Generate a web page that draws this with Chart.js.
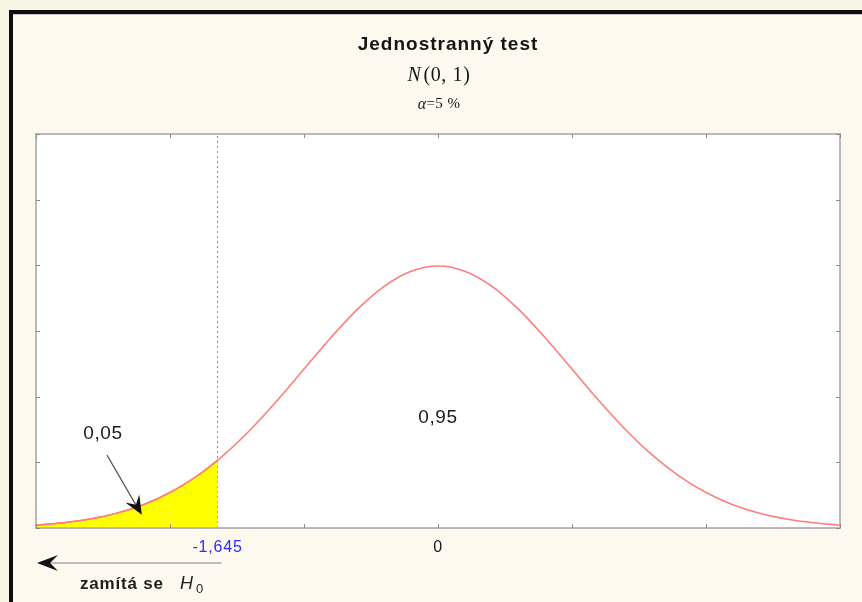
<!DOCTYPE html>
<html>
<head>
<meta charset="utf-8">
<script src="https://cdn.jsdelivr.net/npm/chart.js@4.4.0/dist/chart.umd.min.js"></script>
<style>
  html, body { margin: 0; padding: 0; background: #f6f5e3; }
  canvas { display: block; }
</style>
</head>
<body>
<canvas id="chart" width="862" height="602"></canvas>
<script>
// Standard normal density N(0, 1), sampled along z
const zValues = [-3.0, -2.8, -2.6, -2.4, -2.2, -2.0, -1.8, -1.645, -1.6, -1.4, -1.2, -1.0, -0.8, -0.6, -0.4, -0.2,
                 0.0, 0.2, 0.4, 0.6, 0.8, 1.0, 1.2, 1.4, 1.6, 1.8, 2.0, 2.2, 2.4, 2.6, 2.8, 3.0];
const density = [0.0044, 0.0079, 0.0136, 0.0224, 0.0355, 0.0540, 0.0790, 0.1031, 0.1109, 0.1497, 0.1942, 0.2420, 0.2897, 0.3332, 0.3683, 0.3910,
                 0.3989, 0.3910, 0.3683, 0.3332, 0.2897, 0.2420, 0.1942, 0.1497, 0.1109, 0.0790, 0.0540, 0.0355, 0.0224, 0.0136, 0.0079, 0.0044];

// Rejection region (left tail up to the critical value)
const criticalZ = -1.645;
const tailZ = [-3.0, -2.8, -2.6, -2.4, -2.2, -2.0, -1.8, -1.645];
const tailDensity = [0.0044, 0.0079, 0.0136, 0.0224, 0.0355, 0.0540, 0.0790, 0.1031];

// Axis ticks and labels
const xTickMarks = [-3, -2, -1, 0, 1, 2, 3];
const yTickMarks = [0, 0.1, 0.2, 0.3, 0.4, 0.5, 0.6];
const xLabelValues = [-1.645, 0];
const xLabelTexts = ['-1,645', '0'];

// Texts
const titleText = 'Jednostranný test';
const distributionText = ['N', '(0, 1)'];
const alphaText = ['α', '=5 %'];
const tailProbability = '0,05';
const bodyProbability = '0,95';
const rejectText = ['zamítá se', 'H', '0'];

function toPoints(xs, ys) { return xs.map((x, i) => ({ x: x, y: ys[i] })); }

function drawBarbedHead(ctx, tipX, tipY, angle, len, half) {
  ctx.save();
  ctx.translate(tipX, tipY);
  ctx.rotate(angle);
  ctx.beginPath();
  ctx.moveTo(0, 0);
  ctx.lineTo(-len, -half);
  ctx.lineTo(-len * 0.62, 0);
  ctx.lineTo(-len, half);
  ctx.closePath();
  ctx.fillStyle = '#111';
  ctx.fill();
  ctx.restore();
}

const framePlugin = {
  id: 'frame',
  beforeDraw(chart) {
    const ctx = chart.ctx;
    const { left, right, top, bottom } = chart.chartArea;
    ctx.save();
    ctx.fillStyle = '#f6f5e3';
    ctx.fillRect(0, 0, chart.width, chart.height);
    ctx.fillStyle = '#fef9ee';
    ctx.fillRect(13, 14, chart.width - 13, chart.height - 14);
    ctx.fillStyle = '#0d0d0d';
    ctx.fillRect(9, 10, chart.width - 9, 4);
    ctx.fillRect(9, 10, 4, chart.height - 10);
    ctx.fillStyle = '#c4c4c4';
    ctx.fillRect(13, 14, chart.width - 13, 1);
    ctx.fillStyle = '#ffffff';
    ctx.fillRect(left, top, right - left, bottom - top);
    ctx.restore();
    // slightly open tracking for the axis labels
    ctx.letterSpacing = '0.8px';
  },
  afterDatasetsDraw(chart) {
    const ctx = chart.ctx;
    const xs = chart.scales.x, ys = chart.scales.y;
    const { left, right, top, bottom } = chart.chartArea;
    ctx.save();
    ctx.strokeStyle = '#b9b9b9';
    ctx.lineWidth = 2;
    ctx.strokeRect(left, top, right - left, bottom - top);
    ctx.strokeStyle = '#8a8a8a';
    ctx.lineWidth = 1;
    ctx.beginPath();
    xTickMarks.forEach(v => {
      const px = Math.round(xs.getPixelForValue(v)) + 0.5;
      ctx.moveTo(px, top); ctx.lineTo(px, top + 4);
      ctx.moveTo(px, bottom); ctx.lineTo(px, bottom - 4);
    });
    yTickMarks.forEach(v => {
      const py = Math.round(ys.getPixelForValue(v)) + 0.5;
      ctx.moveTo(left, py); ctx.lineTo(left + 4, py);
      ctx.moveTo(right, py); ctx.lineTo(right - 4, py);
    });
    ctx.stroke();
    ctx.restore();
  },
  afterDraw(chart) {
    const ctx = chart.ctx;
    const xs = chart.scales.x, ys = chart.scales.y;
    const { bottom } = chart.chartArea;
    ctx.save();
    ctx.textBaseline = 'middle';
    ctx.fillStyle = '#151515';

    // Title
    ctx.letterSpacing = '1px';
    ctx.font = 'bold 19px "Liberation Sans", Arial, sans-serif';
    ctx.textAlign = 'center';
    ctx.fillText(titleText, 448, 45);

    // N(0, 1)
    ctx.textBaseline = 'alphabetic';
    ctx.letterSpacing = '0.6px';
    ctx.textAlign = 'left';
    ctx.font = 'italic 20px "Liberation Serif", serif';
    const wN = ctx.measureText(distributionText[0]).width;
    ctx.font = '20px "Liberation Serif", serif';
    const wP = ctx.measureText(distributionText[1]).width;
    let x0 = 439 - (wN + 2 + wP) / 2;
    ctx.font = 'italic 20px "Liberation Serif", serif';
    ctx.fillText(distributionText[0], x0, 81);
    ctx.font = '20px "Liberation Serif", serif';
    ctx.fillText(distributionText[1], x0 + wN + 2, 81);

    // alpha = 5 %
    ctx.letterSpacing = '0.4px';
    ctx.font = 'italic 16px "Liberation Serif", serif';
    const wA = ctx.measureText(alphaText[0]).width;
    ctx.font = '15px "Liberation Serif", serif';
    const wR = ctx.measureText(alphaText[1]).width;
    x0 = 439 - (wA + wR) / 2;
    ctx.font = 'italic 16px "Liberation Serif", serif';
    ctx.fillText(alphaText[0], x0, 109);
    ctx.font = '15px "Liberation Serif", serif';
    ctx.fillText(alphaText[1], x0 + wA, 108);

    // Probability labels inside the plot
    ctx.textBaseline = 'middle';
    ctx.letterSpacing = '0.6px';
    ctx.textAlign = 'center';
    ctx.font = '19px "Liberation Sans", Arial, sans-serif';
    ctx.fillStyle = '#1a1a1a';
    ctx.fillText(tailProbability, xs.getPixelForValue(-2.5), ys.getPixelForValue(0.144));
    ctx.fillText(bodyProbability, xs.getPixelForValue(0), ys.getPixelForValue(0.168));

    // Pointer from the tail label to the shaded area
    const ax0 = xs.getPixelForValue(-2.47), ay0 = ys.getPixelForValue(0.111);
    const ax1 = xs.getPixelForValue(-2.21), ay1 = ys.getPixelForValue(0.02);
    ctx.strokeStyle = '#555';
    ctx.lineWidth = 1.2;
    ctx.beginPath();
    ctx.moveTo(ax0, ay0);
    ctx.lineTo(ax1 - 6, ay1 - 10);
    ctx.stroke();
    drawBarbedHead(ctx, ax1, ay1, Math.atan2(ay1 - ay0, ax1 - ax0), 19, 8);

    // Rejection direction arrow below the axis
    const ry = bottom + 35;
    const rx0 = xs.getPixelForValue(criticalZ) + 4;
    const rx1 = xs.getPixelForValue(-3) + 1;
    ctx.strokeStyle = '#a8a8a8';
    ctx.lineWidth = 1.5;
    ctx.beginPath();
    ctx.moveTo(rx0, ry);
    ctx.lineTo(rx1 + 10, ry);
    ctx.stroke();
    drawBarbedHead(ctx, rx1, ry, Math.PI, 21, 8);

    // "zamítá se H0"
    ctx.fillStyle = '#1e1e1e';
    ctx.textAlign = 'left';
    ctx.letterSpacing = '0.8px';
    ctx.font = 'bold 17px "Liberation Sans", Arial, sans-serif';
    const ty = bottom + 56;
    ctx.fillText(rejectText[0], 80, ty);
    ctx.letterSpacing = '0px';
    ctx.font = 'italic 18px "Liberation Sans", Arial, sans-serif';
    ctx.fillText(rejectText[1], 180, ty);
    ctx.font = '13px "Liberation Sans", Arial, sans-serif';
    ctx.fillText(rejectText[2], 196, ty + 5);
    ctx.restore();
  }
};

new Chart(document.getElementById('chart'), {
  type: 'line',
  data: {
    datasets: [
      {
        label: 'N(0,1)',
        data: toPoints(zValues, density),
        borderColor: '#ff7d7d',
        borderWidth: 1.6,
        pointRadius: 0,
        fill: false,
        cubicInterpolationMode: 'monotone'
      },
      {
        label: 'tail',
        data: toPoints(tailZ, tailDensity),
        borderColor: '#ff6a3a',
        borderWidth: 1.2,
        backgroundColor: '#ffff00',
        pointRadius: 0,
        fill: 'origin',
        cubicInterpolationMode: 'monotone'
      },
      {
        label: 'critical',
        data: [{ x: criticalZ, y: 0 }, { x: criticalZ, y: 0.6 }],
        borderColor: '#7a7aff',
        borderWidth: 1,
        borderDash: [2, 3],
        pointRadius: 0,
        fill: false
      }
    ]
  },
  options: {
    responsive: false,
    animation: false,
    layout: { padding: { left: 36, top: 134, right: 22, bottom: 0 } },
    plugins: {
      legend: { display: false },
      tooltip: { enabled: false },
      title: { display: false }
    },
    scales: {
      x: {
        type: 'linear',
        min: -3,
        max: 3,
        afterBuildTicks: scale => { scale.ticks = xLabelValues.map(v => ({ value: v })); },
        afterFit: scale => { scale.height = 74; },
        grid: { display: false, drawTicks: false },
        border: { display: false },
        ticks: {
          autoSkip: false,
          maxRotation: 0,
          padding: 10,
          font: { family: '"Liberation Sans", Arial, sans-serif', size: 16 },
          color: ctx => (ctx.index === 0 ? '#2b2bff' : '#1a1a1a'),
          callback: (value, index) => xLabelTexts[index]
        }
      },
      y: {
        display: false,
        min: 0,
        max: 0.6
      }
    }
  },
  plugins: [framePlugin]
});
</script>
</body>
</html>
